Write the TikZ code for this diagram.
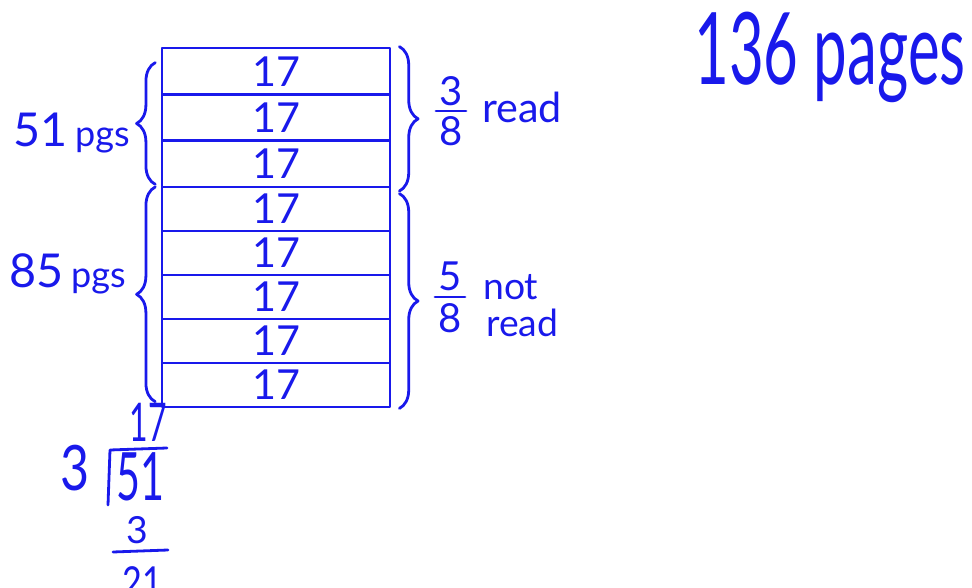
\documentclass[tikz,border=0pt]{standalone}
\usepackage{fontspec}
\setmainfont{Lato}
\usetikzlibrary{decorations.pathreplacing}
\definecolor{ink}{RGB}{25,25,235}
\begin{document}
\begin{tikzpicture}[x=0.75pt,y=-0.75pt,
  inkline/.style={draw=ink,line width=2.1pt,line cap=round,line join=round},
  rowbox/.style={inkline,minimum width=171pt,minimum height=34.75pt,inner sep=0pt,text=ink,font=\fontsize{31}{31}\selectfont},
  lowrow/.style={rowbox,minimum height=33pt},
  brc/.style={inkline,decorate,decoration={brace,amplitude=14pt}},
  lbl/.style={text=ink,inner sep=0pt}]
\useasboundingbox (0,0) rectangle (972,588);
\clip (0,0) rectangle (972,588);
% rows
\node[rowbox] (r1) at (276,71.2) {17};
\node[rowbox] (r2) at (276,117.5) {17};
\node[rowbox] (r3) at (276,163.8) {17};
\node[lowrow] (r4) at (276,209) {17};
\node[lowrow] (r5) at (276,253) {17};
\node[lowrow] (r6) at (276,297) {17};
\node[lowrow] (r7) at (276,341) {17};
\node[lowrow] (r8) at (276,385) {17};
% braces
\draw[brc] ([xshift=-4pt,yshift=3pt]r3.south west) -- ([xshift=-4pt,yshift=-12pt]r1.north west);
\draw[brc] ([xshift=-4pt,yshift=5pt]r8.south west) -- ([xshift=-4pt,yshift=-1pt]r4.north west);
\draw[brc] ([xshift=6pt]r1.north east) -- ([xshift=6pt,yshift=-2pt]r3.south east);
\draw[brc] ([xshift=6pt,yshift=-6pt]r4.north east) -- ([xshift=6pt]r8.south east);
% left labels
\node[lbl,anchor=base east] (l51) at (130,147) {\fontsize{35}{35}\selectfont 51\,\fontsize{27}{27}\selectfont pgs};
\node[lbl,anchor=base east] (l85) at (126,288) {\fontsize{35}{35}\selectfont 85\,\fontsize{27}{27}\selectfont pgs};
% right labels
\node[lbl,font=\fontsize{30}{30}\selectfont] (n1) at (451,91) {3};
\node[lbl,font=\fontsize{30}{30}\selectfont] (d1) at (451,131) {8};
\coordinate (f1a) at (436,111);
\coordinate (f1b) at (466,111);
\draw[inkline] (f1a) -- (f1b);
\node[lbl,anchor=base west,font=\fontsize{31}{31}\selectfont] (rd1) at (482,123) {read};
\node[lbl,font=\fontsize{30}{30}\selectfont] (n2) at (450,276) {5};
\node[lbl,font=\fontsize{30}{30}\selectfont] (d2) at (450,318) {8};
\coordinate (f2a) at (435,297);
\coordinate (f2b) at (465,297);
\draw[inkline] (f2a) -- (f2b);
\node[lbl,anchor=base west,font=\fontsize{28}{28}\selectfont] (nt) at (483,300) {not};
\node[lbl,anchor=base west,font=\fontsize{28}{28}\selectfont] (rd2) at (486,336) {read};
% title
\node[lbl,font=\fontsize{75}{75}\selectfont] (ttl) at (830,57) {\scalebox{0.6}[1]{136 pages}};
% division
\node[lbl,font=\fontsize{47}{47}\selectfont] (dv) at (75,468) {\scalebox{0.8}[1]{3}};
\node[lbl,font=\fontsize{40}{40}\selectfont] (dq) at (148,422) {\scalebox{0.6}[1]{17}};
\node[lbl,font=\fontsize{50}{50}\selectfont] (dd) at (140,477) {\scalebox{0.62}[1]{51}};
\coordinate (bk1) at (108,505);
\coordinate (bk2) at (110,450);
\coordinate (bk3) at (167,448);
\draw[inkline] (bk1) -- (bk2) -- (bk3);
\node[lbl,font=\fontsize{28}{28}\selectfont] (ds) at (137,530) {3};
\coordinate (bl1) at (113,552);
\coordinate (bl2) at (168,550);
\draw[inkline] (bl1) -- (bl2);
\node[lbl,font=\fontsize{32}{32}\selectfont] (dr) at (142,582) {\scalebox{0.8}[1]{21}};
\end{tikzpicture}
\end{document}
